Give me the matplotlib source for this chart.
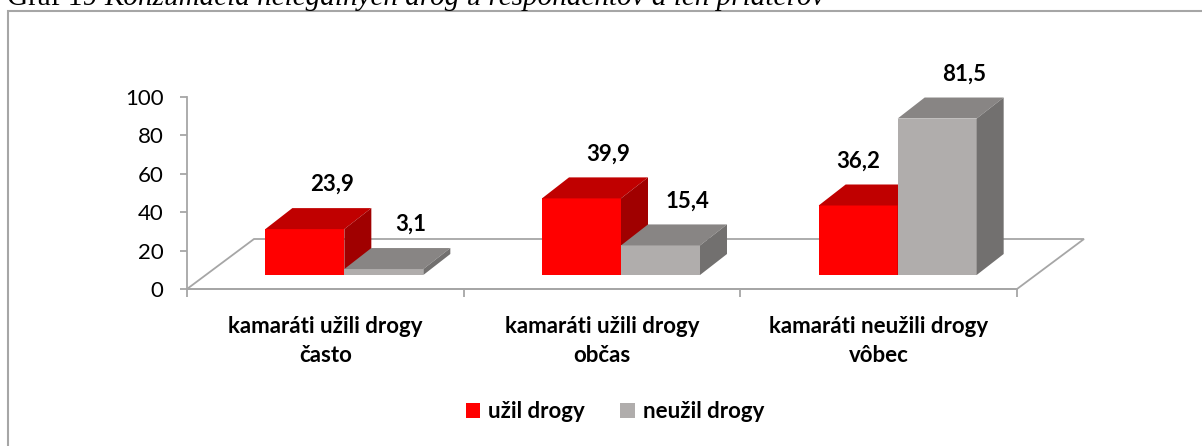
import numpy as np
import matplotlib
matplotlib.use("Agg")
import matplotlib.pyplot as plt
from matplotlib.patches import Polygon, Patch, Rectangle

# data
categories = ["kamaráti užili drogy\nčasto", "kamaráti užili drogy\nobčas", "kamaráti neužili drogy\nvôbec"]
uzil = [23.9, 39.9, 36.2]
neuzil = [3.1, 15.4, 81.5]
series_names = ["užil drogy", "neužil drogy"]
yticks = [0, 20, 40, 60, 80, 100]

# colours: front, top, side
RED = ("#ff0000", "#c00000", "#a00000")
GRAY = ("#b0adac", "#888584", "#72706f")

W, H = 1202, 446
fig = plt.figure(figsize=(W / 100, H / 100), dpi=100)
FONT = "Lato"

# axes box: x 0..3 at px 187..1017, y 0..100 at px 289..97
ax = fig.add_axes([187 / W, (H - 289) / H, 830 / W, 192 / H])
ax.set_xlim(0, 3)
ax.set_ylim(0, 100)
PXX = 830 / 3      # px per category
PXY = 192 / 100    # px per value unit

# oblique depth (in px converted to data units)
FLOOR_DX, FLOOR_DY = 67 / PXX, 50 / PXY
OFF_DX, OFF_DY = 19 / PXX, 14 / PXY
BAR_DX, BAR_DY = 27 / PXX, 21 / PXY
BW = 79 / PXX

# floor
floor = Polygon([(0, 0), (3, 0), (3 + FLOOR_DX, FLOOR_DY), (FLOOR_DX, FLOOR_DY)],
                closed=True, facecolor="white", edgecolor="#a6a6a6", lw=1.3,
                clip_on=False, zorder=1)
ax.add_patch(floor)


def bar3d(x0, val, cols, label, lab_dx):
    y0 = OFF_DY
    ax.bar(x0, val, width=BW, bottom=y0, align="edge", color=cols[0],
           edgecolor="none", zorder=3, clip_on=False)
    top = Polygon([(x0, y0 + val), (x0 + BW, y0 + val),
                   (x0 + BW + BAR_DX, y0 + val + BAR_DY), (x0 + BAR_DX, y0 + val + BAR_DY)],
                  closed=True, facecolor=cols[1], edgecolor="none", zorder=3, clip_on=False)
    side = Polygon([(x0 + BW, y0), (x0 + BW + BAR_DX, y0 + BAR_DY),
                    (x0 + BW + BAR_DX, y0 + val + BAR_DY), (x0 + BW, y0 + val)],
                   closed=True, facecolor=cols[2], edgecolor="none", zorder=3, clip_on=False)
    ax.add_patch(top)
    ax.add_patch(side)
    ax.annotate(label, (x0 + BW / 2 + lab_dx, y0 + val + BAR_DY),
                xytext=(0, 17), textcoords="offset points", ha="center", va="center",
                fontsize=16, fontweight="bold", family=FONT, annotation_clip=False, zorder=5)


for i in range(3):
    c = i + 0.5 + OFF_DX
    # red label sits over the front face when the grey bar next to it is taller
    red_dx = 0 if neuzil[i] > uzil[i] else BAR_DX
    bar3d(c - BW, uzil[i], RED, f"{uzil[i]:.1f}".replace(".", ","), red_dx)
    bar3d(c, neuzil[i], GRAY, f"{neuzil[i]:.1f}".replace(".", ","), BAR_DX)

# axes styling
for s in ["top", "right"]:
    ax.spines[s].set_visible(False)
ax.spines["bottom"].set_visible(False)
ax.spines["left"].set_color("#a6a6a6")
ax.spines["left"].set_linewidth(1.3)
ax.axhline(0, color="#a6a6a6", lw=1.3, zorder=2, clip_on=False)
ax.set_yticks(yticks)
ax.set_yticklabels([str(v) for v in yticks], family=FONT, fontsize=16)
ax.tick_params(axis="y", length=5, width=1.3, color="#a6a6a6", pad=12)
ax.set_xticks([0, 1, 2, 3])
ax.set_xticklabels([])
ax.tick_params(axis="x", length=6, width=1.3, color="#a6a6a6")
for i, cat in enumerate(categories):
    ax.text(i + 0.5, -14, cat, ha="center", va="top", fontsize=16, fontweight="bold",
            family=FONT, linespacing=1.5)

# legend
handles = [Patch(facecolor=RED[0], label=series_names[0]),
           Patch(facecolor=GRAY[0], label=series_names[1])]
fig.legend(handles=handles, loc="center", bbox_to_anchor=(615 / W, 1 - 412 / H), ncol=2,
           frameon=False, prop={"family": FONT, "weight": "bold", "size": 16},
           handlelength=0.65, handleheight=0.65, handletextpad=0.35, columnspacing=1.6)

# chart border
fig.patches.append(Rectangle((8 / W, -0.05), 1.1, 1 - 11 / H + 0.05, transform=fig.transFigure,
                             facecolor="none", edgecolor="#a6a6a6", lw=1.5))

# title (cut off at top, as in the source)
t1 = fig.text(7 / W, 1 - 5 / H, "Graf 19 ", family="Liberation Serif", fontsize=21, va="baseline")
fig.canvas.draw()
r = fig.canvas.get_renderer()
w1 = t1.get_window_extent(r).width
fig.text((7 + w1) / W, 1 - 5 / H, "Konzumácia nelegálnych drog u respondentov a ich priateľov",
         family="Liberation Serif", style="italic", fontsize=21, va="baseline")

fig.savefig("out.png", dpi=100)
